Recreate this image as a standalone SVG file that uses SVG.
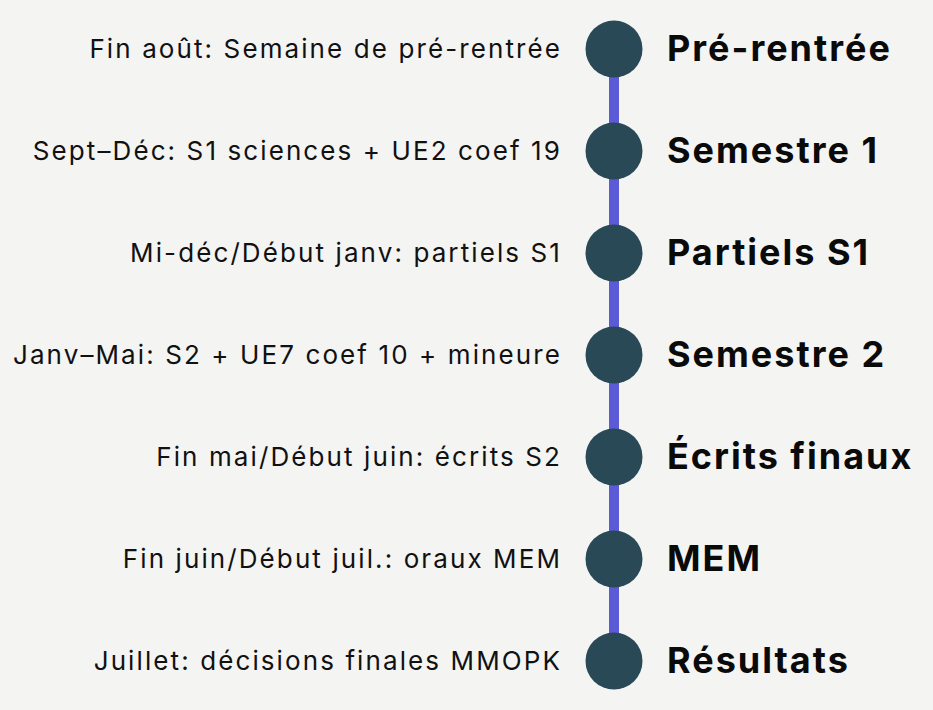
<svg xmlns="http://www.w3.org/2000/svg" width="933" height="710" viewBox="0 0 933 710">
<style>
.lbl{font-family:Inter,"Liberation Sans",sans-serif;font-size:26px;fill:#111;text-anchor:end;letter-spacing:2.1px}
.ttl{font-family:Inter,"Liberation Sans",sans-serif;font-size:36px;font-weight:700;fill:#0a0a0a;letter-spacing:2px}
.dot{fill:#2a4957}
</style>
<rect width="933" height="710" fill="#f4f4f3"/>
<g id="connectors">
<line x1="614" y1="49" x2="614" y2="661" stroke="#5b5bd8" stroke-width="10"/>
</g>
<g id="n1"><circle class="dot" cx="614" cy="49" r="28.5"/><text class="lbl" x="562" y="58">Fin août: Semaine de pré-rentrée</text><text class="ttl" x="667" y="61">Pré-rentrée</text></g>
<g id="n2"><circle class="dot" cx="614" cy="151" r="28.5"/><text class="lbl" x="562" y="160">Sept–Déc: S1 sciences + UE2 coef 19</text><text class="ttl" x="667" y="163">Semestre 1</text></g>
<g id="n3"><circle class="dot" cx="614" cy="253" r="28.5"/><text class="lbl" x="562" y="262">Mi-déc/Début janv: partiels S1</text><text class="ttl" x="667" y="265">Partiels S1</text></g>
<g id="n4"><circle class="dot" cx="614" cy="355" r="28.5"/><text class="lbl" x="562" y="364">Janv–Mai: S2 + UE7 coef 10 + mineure</text><text class="ttl" x="667" y="367">Semestre 2</text></g>
<g id="n5"><circle class="dot" cx="614" cy="457" r="28.5"/><text class="lbl" x="562" y="466">Fin mai/Début juin: écrits S2</text><text class="ttl" x="667" y="469">Écrits finaux</text></g>
<g id="n6"><circle class="dot" cx="614" cy="559" r="28.5"/><text class="lbl" x="562" y="568">Fin juin/Début juil.: oraux MEM</text><text class="ttl" x="667" y="571">MEM</text></g>
<g id="n7"><circle class="dot" cx="614" cy="661" r="28.5"/><text class="lbl" x="562" y="670">Juillet: décisions finales MMOPK</text><text class="ttl" x="667" y="673">Résultats</text></g>
</svg>
